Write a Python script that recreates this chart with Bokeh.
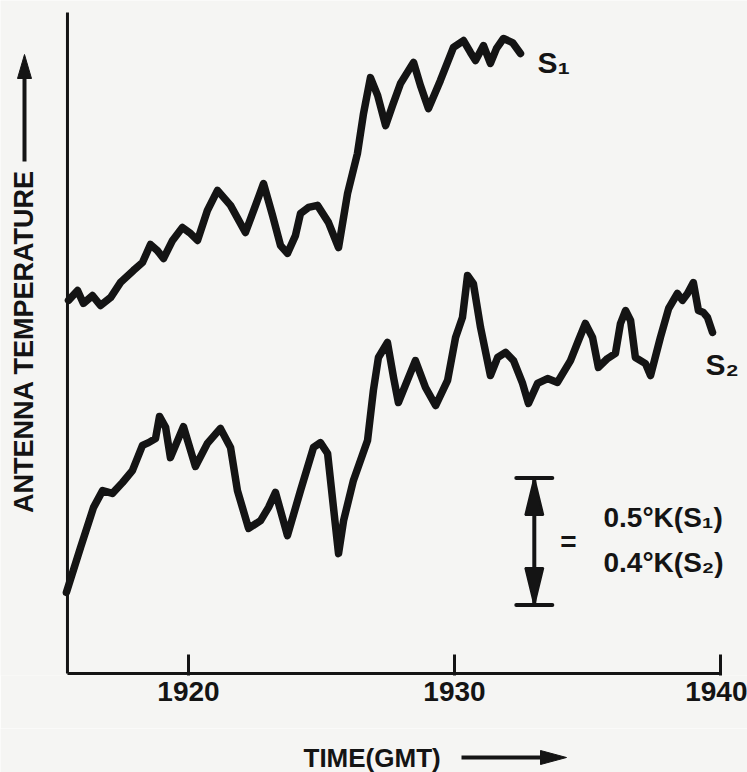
import math
from bokeh.plotting import figure
from bokeh.layouts import column
from bokeh.models import Label, FixedTicker, Range1d
from bokeh.core.properties import value
from bokeh.embed import file_html
from bokeh.resources import INLINE

# ---- data (time in GMT hhmm read as numbers, temperature in plot units) ----
s1_time = [1915.49, 1915.83, 1916.05, 1916.39, 1916.69, 1917.07, 1917.44, 1917.93, 1918.27, 1918.57,
           1918.83, 1919.06, 1919.40, 1919.77, 1920.08, 1920.34, 1920.71, 1921.09, 1921.58, 1922.14,
           1922.52, 1922.82, 1923.16, 1923.46, 1923.72, 1924.02, 1924.21, 1924.51, 1924.85, 1925.26,
           1925.64, 1925.98, 1926.35, 1926.58, 1926.84, 1927.11, 1927.41, 1927.67, 1927.97, 1928.46,
           1928.72, 1929.02, 1929.47, 1929.96, 1930.34, 1930.60, 1930.79, 1931.09, 1931.35, 1931.58,
           1931.84, 1932.18, 1932.48]
s1_temp = [1.469, 1.508, 1.457, 1.488, 1.449, 1.480, 1.539, 1.587, 1.618, 1.689,
           1.665, 1.634, 1.705, 1.756, 1.732, 1.705, 1.823, 1.902, 1.843, 1.736,
           1.843, 1.929, 1.803, 1.685, 1.654, 1.724, 1.811, 1.835, 1.843, 1.776,
           1.677, 1.890, 2.047, 2.205, 2.346, 2.276, 2.157, 2.236, 2.323, 2.406,
           2.315, 2.224, 2.335, 2.465, 2.492, 2.445, 2.413, 2.472, 2.402, 2.461,
           2.500, 2.484, 2.441]

s2_time = [1915.41, 1915.94, 1916.43, 1916.77, 1917.14, 1917.52, 1917.89, 1918.27, 1918.50, 1918.76,
           1918.91, 1919.14, 1919.32, 1919.81, 1920.26, 1920.71, 1921.20, 1921.58, 1921.84, 1922.26,
           1922.71, 1923.01, 1923.27, 1923.72, 1924.21, 1924.70, 1924.96, 1925.23, 1925.45, 1925.64,
           1925.83, 1926.20, 1926.73, 1926.95, 1927.14, 1927.48, 1927.71, 1927.89, 1928.53, 1928.91,
           1929.29, 1929.74, 1930.04, 1930.30, 1930.49, 1930.71, 1930.98, 1931.35, 1931.62, 1931.92,
           1932.22, 1932.56, 1932.78, 1933.12, 1933.50, 1933.87, 1934.36, 1934.66, 1934.92, 1935.19,
           1935.41, 1935.75, 1936.05, 1936.24, 1936.43, 1936.62, 1936.80, 1937.18, 1937.37, 1937.74,
           1938.05, 1938.38, 1938.57, 1938.76, 1938.98, 1939.17, 1939.36, 1939.51, 1939.70]
s2_temp = [0.319, 0.496, 0.654, 0.720, 0.709, 0.752, 0.799, 0.898, 0.909, 0.925,
           1.012, 0.969, 0.850, 0.972, 0.815, 0.906, 0.965, 0.890, 0.720, 0.571,
           0.602, 0.654, 0.713, 0.543, 0.720, 0.890, 0.909, 0.866, 0.654, 0.472,
           0.602, 0.760, 0.917, 1.114, 1.244, 1.303, 1.165, 1.067, 1.232, 1.126,
           1.055, 1.154, 1.323, 1.402, 1.567, 1.535, 1.362, 1.173, 1.244, 1.264,
           1.232, 1.142, 1.063, 1.142, 1.161, 1.146, 1.232, 1.311, 1.378, 1.323,
           1.205, 1.240, 1.260, 1.378, 1.429, 1.390, 1.244, 1.220, 1.173, 1.323,
           1.437, 1.496, 1.469, 1.496, 1.539, 1.429, 1.421, 1.402, 1.343]

tick_times = [1920, 1930, 1940]
tick_labels = ["1920", "1930", "1940"]

axis_start_time = 1915.45   # where the time axis begins
axis_end_time = 1940.0
axis_top_temp = 2.602

scale_time = 1933.0     # where the scale bar stands
scale_base = 0.27       # bottom of the scale bar
scale_span = 0.5        # = 0.5 K for S1, 0.4 K for S2
scale_texts = ["0.5°K(S₁)", "0.4°K(S₂)"]

# ---- layout ----
W, H = 747, 772
H1 = 728                 # main figure height
FB = 675                 # frame bottom (px from top)
PX_PER_X = 26.6          # px per time unit
PX_PER_Y = 254.0         # px per temp unit
X_AT_0 = 1920 - 188 / PX_PER_X
X0, X1 = X_AT_0, X_AT_0 + W / PX_PER_X
Y0 = -(FB - 673) / PX_PER_Y
Y1 = Y0 + FB / PX_PER_Y
xpp = 1 / PX_PER_X
ypp = 1 / PX_PER_Y

def dx(px):
    return X0 + px * xpp

def dy(py):
    return Y0 + (FB - py) * ypp

INK = "#141414"
BG = "#f5f5f3"
FONT = "Liberation Sans"

x_range = Range1d(X0, X1)
p = figure(width=W, height=H1, x_range=x_range, y_range=Range1d(Y0, Y1),
           output_backend="svg", toolbar_location=None,
           min_border_left=0, min_border_right=0, min_border_top=0, min_border_bottom=H1 - FB)
p.background_fill_color = BG
p.border_fill_color = BG
p.outline_line_color = None
p.grid.visible = False
p.yaxis.visible = False

# x axis: ticks and labels from Bokeh, the axis line itself drawn below
xa = p.xaxis[0]
xa.ticker = FixedTicker(ticks=tick_times)
xa.major_label_overrides = {t: s for t, s in zip(tick_times, tick_labels)}
xa.axis_line_color = None
xa.major_tick_in = 21
xa.major_tick_out = 0
xa.major_tick_line_width = 3
xa.major_tick_line_color = INK
xa.minor_tick_line_color = None
xa.major_label_text_font = FONT
xa.major_label_text_font_style = "bold"
xa.major_label_text_font_size = "28px"
xa.major_label_text_color = INK
xa.major_label_standoff = 6

# axis lines
p.segment(x0=[axis_start_time, axis_start_time], y0=[0, 0],
          x1=[axis_end_time, axis_start_time], y1=[0, axis_top_temp],
          line_width=3, line_color=INK)

# y title with arrow
p.text(x=[dx(23)], y=[dy(341)], text=["ANTENNA TEMPERATURE"], angle=math.pi / 2,
       text_font=value(FONT), text_font_style="bold", text_font_size="27px",
       text_color=INK, text_align="center", text_baseline="middle")
p.segment(x0=[dx(24)], y0=[dy(161)], x1=[dx(24)], y1=[dy(72)], line_width=4, line_color=INK)
p.patch(x=[dx(24) - 7 * xpp, dx(24), dx(24) + 7 * xpp],
        y=[dy(78), dy(54), dy(78)], fill_color=INK, line_color=INK, line_width=1)

# curves
p.line(s1_time, s1_temp, line_width=7.5, line_color=INK, line_join="round", line_cap="round")
p.line(s2_time, s2_temp, line_width=7.5, line_color=INK, line_join="round", line_cap="round")

# series labels
p.add_layout(Label(x=dx(537), y=dy(62), text="S₁", text_font=FONT, text_font_style="bold",
                   text_font_size="30px", text_color=INK, text_baseline="alphabetic"))
p.add_layout(Label(x=dx(705), y=dy(364), text="S₂", text_font=FONT, text_font_style="bold",
                   text_font_size="30px", text_color=INK, text_baseline="alphabetic"))

# scale bar
top = scale_base + scale_span
cap_hw = 18 * xpp
head_len = 37 * ypp
head_hw = 9 * xpp
p.segment(x0=[scale_time], y0=[scale_base], x1=[scale_time], y1=[top], line_width=4, line_color=INK)
p.segment(x0=[scale_time - cap_hw] * 2, y0=[scale_base, top], x1=[scale_time + cap_hw] * 2,
          y1=[scale_base, top], line_width=4, line_color=INK, line_cap="round")
p.patches(xs=[[scale_time - head_hw, scale_time, scale_time + head_hw],
              [scale_time - head_hw, scale_time, scale_time + head_hw]],
          ys=[[top - head_len, top, top - head_len],
              [scale_base + head_len, scale_base, scale_base + head_len]],
          fill_color=INK, line_color=INK, line_width=2)
p.add_layout(Label(x=dx(568), y=dy(541), text="=", text_font=FONT, text_font_style="bold",
                   text_font_size="28px", text_color=INK, text_align="center", text_baseline="middle"))
p.add_layout(Label(x=dx(603), y=dy(517), text=scale_texts[0], text_font=FONT, text_font_style="bold",
                   text_font_size="28px", text_color=INK, text_baseline="middle"))
p.add_layout(Label(x=dx(603), y=dy(562), text=scale_texts[1], text_font=FONT, text_font_style="bold",
                   text_font_size="28px", text_color=INK, text_baseline="middle"))

# bottom strip: x title with arrow
H2 = H - H1
q = figure(width=W, height=H2, x_range=x_range, y_range=Range1d(0, H2),
           output_backend="svg", toolbar_location=None, x_axis_type=None, y_axis_type=None,
           min_border_left=0, min_border_right=0, min_border_top=0, min_border_bottom=0)
q.background_fill_color = BG
q.border_fill_color = BG
q.outline_line_color = None
q.grid.visible = False
ty = H - 757
q.text(x=[dx(303)], y=[ty], text=["TIME(GMT)"], text_font=value(FONT), text_font_style="bold",
       text_font_size="26px", text_color=INK, text_align="left", text_baseline="middle")
q.segment(x0=[dx(461)], y0=[ty], x1=[dx(545)], y1=[ty], line_width=4, line_color=INK)
q.patch(x=[dx(540), dx(566), dx(540)], y=[ty + 7, ty, ty - 7], fill_color=INK, line_color=INK)

layout = column(p, q, spacing=0)
open("out.html", "w").write(file_html(layout, INLINE))
